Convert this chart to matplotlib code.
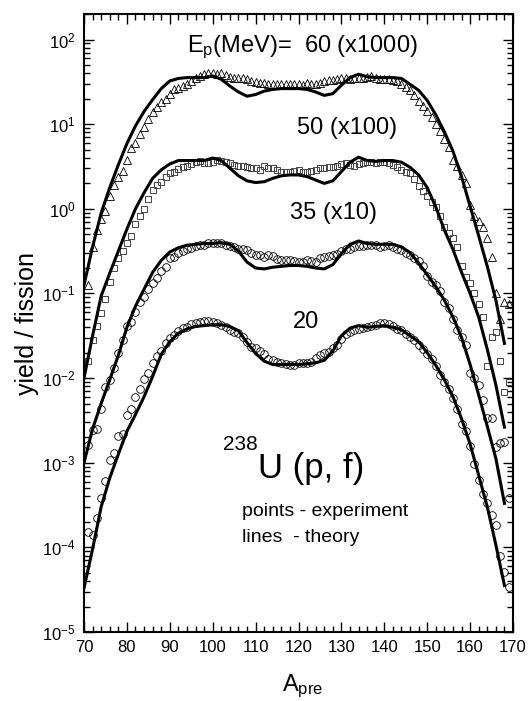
import numpy as np
import matplotlib
matplotlib.use("Agg")
import matplotlib.pyplot as plt
from matplotlib.ticker import FixedLocator, MultipleLocator, NullFormatter, LogLocator

plt.rcParams['font.family'] = ['Liberation Sans', 'DejaVu Sans']
plt.rcParams['mathtext.fontset'] = 'custom'
plt.rcParams['mathtext.rm'] = 'Liberation Sans'
plt.rcParams['mathtext.it'] = 'Liberation Sans:italic'

# mass numbers of the measured points
a_exp = np.arange(71, 170)

# log10(yield), experiment (one value per A = 71..169)
exp_60 = [-0.90, -0.45, -0.25, -0.12, -0.03, 0.15, 0.28, 0.38, 0.45, 0.58,
          0.72, 0.78, 0.88, 0.97, 1.06, 1.14, 1.20, 1.26, 1.30, 1.36,
          1.42, 1.43, 1.45, 1.48, 1.51, 1.55, 1.57, 1.59, 1.60, 1.61,
          1.59, 1.60, 1.58, 1.56, 1.55, 1.55, 1.54, 1.53, 1.51, 1.50,
          1.49, 1.49, 1.48, 1.48, 1.47, 1.47, 1.48, 1.48, 1.48, 1.47,
          1.46, 1.49, 1.48, 1.48, 1.49, 1.51, 1.52, 1.52, 1.53, 1.54,
          1.54, 1.53, 1.55, 1.55, 1.54, 1.56, 1.57, 1.54, 1.53, 1.53,
          1.53, 1.52, 1.51, 1.48, 1.44, 1.40, 1.34, 1.27, 1.21, 1.16,
          1.08, 1.00, 0.92, 0.82, 0.73, 0.58, 0.50, 0.40, 0.31, 0.04,
          -0.08, -0.14, -0.22, -0.34, -0.57, -1.00, -1.30, -1.10, -1.12]
exp_50 = [-1.80, -1.55, -1.38, -1.23, -1.06, -0.86, -0.70, -0.58, -0.50, -0.40,
          -0.32, -0.18, -0.08, 0.00, 0.12, 0.22, 0.28, 0.32, 0.38, 0.42,
          0.43, 0.47, 0.49, 0.51, 0.53, 0.55, 0.56, 0.54, 0.54, 0.55,
          0.58, 0.56, 0.55, 0.54, 0.52, 0.51, 0.50, 0.49, 0.48, 0.48,
          0.46, 0.50, 0.48, 0.48, 0.46, 0.44, 0.43, 0.44, 0.45, 0.46,
          0.44, 0.43, 0.45, 0.46, 0.48, 0.48, 0.49, 0.49, 0.51, 0.53,
          0.54, 0.52, 0.51, 0.53, 0.54, 0.55, 0.55, 0.54, 0.55, 0.55,
          0.54, 0.52, 0.49, 0.46, 0.44, 0.42, 0.35, 0.27, 0.21, 0.15,
          0.08, 0.02, -0.08, -0.22, -0.29, -0.34, -0.45, -0.68, -0.80, -0.88,
          -0.99, -1.12, -1.28, -1.86, -1.52, -1.46, -1.80, -2.17, -2.05]
exp_35 = [-2.79, -2.61, -2.60, -2.36, -2.11, -2.02, -1.88, -1.70, -1.55, -1.38,
          -1.34, -1.22, -1.10, -1.04, -0.95, -0.88, -0.82, -0.74, -0.69, -0.58,
          -0.57, -0.52, -0.50, -0.48, -0.46, -0.44, -0.43, -0.43, -0.41, -0.40,
          -0.40, -0.41, -0.43, -0.44, -0.45, -0.47, -0.48, -0.49, -0.52, -0.54,
          -0.55, -0.57, -0.55, -0.56, -0.59, -0.61, -0.61, -0.61, -0.62, -0.63,
          -0.63, -0.61, -0.62, -0.63, -0.58, -0.57, -0.56, -0.55, -0.53, -0.50,
          -0.48, -0.47, -0.45, -0.44, -0.44, -0.43, -0.43, -0.43, -0.45, -0.44,
          -0.43, -0.45, -0.47, -0.49, -0.52, -0.55, -0.58, -0.62, -0.67, -0.79,
          -0.86, -0.90, -0.97, -1.10, -1.17, -1.30, -1.43, -1.52, -1.61, -1.94,
          -2.00, -2.08, -2.26, -2.47, -2.47, -2.82, -2.77, -2.76, -3.42]
exp_20 = [-3.82, -3.85, -3.65, -3.42, -3.22, -2.97, -2.88, -2.68, -2.66, -2.44,
          -2.37, -2.22, -2.13, -2.01, -1.94, -1.82, -1.74, -1.68, -1.59, -1.53,
          -1.49, -1.44, -1.41, -1.40, -1.36, -1.35, -1.34, -1.33, -1.33, -1.34,
          -1.35, -1.37, -1.40, -1.43, -1.46, -1.47, -1.52, -1.57, -1.63, -1.65,
          -1.68, -1.72, -1.77, -1.79, -1.81, -1.82, -1.83, -1.85, -1.84, -1.82,
          -1.82, -1.82, -1.81, -1.76, -1.73, -1.70, -1.69, -1.65, -1.61, -1.54,
          -1.48, -1.45, -1.43, -1.42, -1.41, -1.40, -1.39, -1.37, -1.35, -1.35,
          -1.36, -1.39, -1.42, -1.43, -1.48, -1.51, -1.55, -1.61, -1.66, -1.71,
          -1.78, -1.86, -1.96, -2.05, -2.13, -2.23, -2.36, -2.54, -2.63, -2.80,
          -3.02, -3.20, -3.37, -3.47, -3.62, -3.74, -4.10, -4.29, -4.47]

# theory curves, log10(yield) at A = 70, 72, ..., 168
a_th = np.arange(70, 169, 2)
th_60 = [-0.90, -0.45, -0.05, 0.25, 0.52, 0.77, 0.98, 1.15, 1.29, 1.42,
         1.51, 1.54, 1.55, 1.55, 1.55, 1.57, 1.53, 1.45, 1.38, 1.33,
         1.35, 1.39, 1.41, 1.42, 1.42, 1.42, 1.41, 1.38, 1.34, 1.36,
         1.46, 1.55, 1.59, 1.56, 1.55, 1.55, 1.55, 1.54, 1.47, 1.40,
         1.28, 1.11, 0.91, 0.68, 0.38, 0.03, -0.32, -0.68, -1.08, -1.59]
th_50 = [-2.00, -1.50, -1.03, -0.76, -0.50, -0.24, 0.00, 0.19, 0.36, 0.46,
         0.53, 0.57, 0.57, 0.57, 0.57, 0.60, 0.57, 0.48, 0.39, 0.33,
         0.31, 0.32, 0.36, 0.39, 0.40, 0.40, 0.38, 0.34, 0.30, 0.33,
         0.44, 0.55, 0.61, 0.57, 0.56, 0.57, 0.57, 0.55, 0.49, 0.40,
         0.25, 0.02, -0.25, -0.48, -0.75, -1.00, -1.28, -1.66, -2.08, -2.58]
th_35 = [-3.00, -2.60, -2.30, -2.02, -1.73, -1.40, -1.15, -0.95, -0.75, -0.61,
         -0.51, -0.46, -0.43, -0.42, -0.41, -0.41, -0.40, -0.42, -0.50, -0.63,
         -0.70, -0.71, -0.69, -0.68, -0.67, -0.67, -0.68, -0.70, -0.71, -0.66,
         -0.53, -0.42, -0.38, -0.41, -0.42, -0.42, -0.42, -0.45, -0.52, -0.64,
         -0.78, -0.92, -1.08, -1.28, -1.52, -1.84, -2.20, -2.57, -2.95, -3.48]
th_20 = [-4.48, -4.02, -3.52, -3.18, -2.90, -2.63, -2.43, -2.22, -1.98, -1.72,
         -1.57, -1.47, -1.42, -1.39, -1.38, -1.37, -1.37, -1.39, -1.44, -1.58,
         -1.71, -1.80, -1.84, -1.84, -1.84, -1.84, -1.83, -1.82, -1.79, -1.68,
         -1.50, -1.41, -1.38, -1.40, -1.39, -1.38, -1.40, -1.43, -1.50, -1.57,
         -1.70, -1.85, -2.02, -2.22, -2.48, -2.78, -3.15, -3.52, -3.97, -4.45]

fig = plt.figure(figsize=(5.29, 7.01), dpi=100)
ax = fig.add_axes([0.1588, 0.0984, 0.811, 0.8816])

mk = dict(ls='none', mfc='none', mec='black', ms=5.5, mew=0.6)
ax.plot(a_exp, 10 ** np.array(exp_60), marker='^', **mk)
ax.plot(a_exp, 10 ** np.array(exp_50), marker='s', ms=5, mfc='none', mec='#444444', mew=0.7, ls='none')
ax.plot(a_exp, 10 ** np.array(exp_35), marker='o', **mk)
ax.plot(a_exp, 10 ** np.array(exp_20), marker='o', **mk)

for th in (th_60, th_50, th_35, th_20):
    ax.plot(a_th, 10 ** np.array(th), color='black', lw=2.2, solid_joinstyle='round')

ax.set_yscale('log')
ax.set_xlim(70, 170)
ax.set_ylim(1e-5, 200)
ax.xaxis.set_major_locator(MultipleLocator(10))
ax.xaxis.set_minor_locator(MultipleLocator(2))
ax.yaxis.set_major_locator(LogLocator(base=10, numticks=100))
minor_y = [m * 10.0 ** e for e in range(-5, 3) for m in range(2, 10)]
ax.yaxis.set_minor_locator(FixedLocator(minor_y))
ax.yaxis.set_minor_formatter(NullFormatter())
ax.tick_params(which='both', direction='in', top=True, right=True, labelsize=12, width=1.0)
ax.tick_params(which='major', length=7, pad=6)
ax.tick_params(which='minor', length=4)
for s in ax.spines.values():
    s.set_linewidth(1.5)

ax.set_ylabel('yield / fission', fontsize=18, labelpad=2)
fig.text(282 / 529, 10 / 701, r'A$_\mathrm{pre}$', fontsize=17, ha='left', va='baseline')

ax.text(94, 80, r'E$_\mathrm{p}$(MeV)=  60 (x1000)', fontsize=17, va='center', ha='left')
ax.text(119.6, 8.9, '50 (x100)', fontsize=17, va='center', ha='left')
ax.text(118, 0.88, '35 (x10)', fontsize=17, va='center', ha='left')
ax.text(118.7, 0.046, '20', fontsize=17, va='center', ha='left')
ax.text(102.4, 10 ** -2.79, '238', fontsize=15, va='center', ha='left')
ax.text(110.6, 10 ** -3.18, 'U (p, f)', fontsize=25, va='baseline', ha='left')
ax.text(106.8, 10 ** -3.58, 'points - experiment', fontsize=14, va='center', ha='left')
ax.text(106.8, 10 ** -3.88, 'lines  - theory', fontsize=14, va='center', ha='left')

fig.savefig('out.png', dpi=100)
